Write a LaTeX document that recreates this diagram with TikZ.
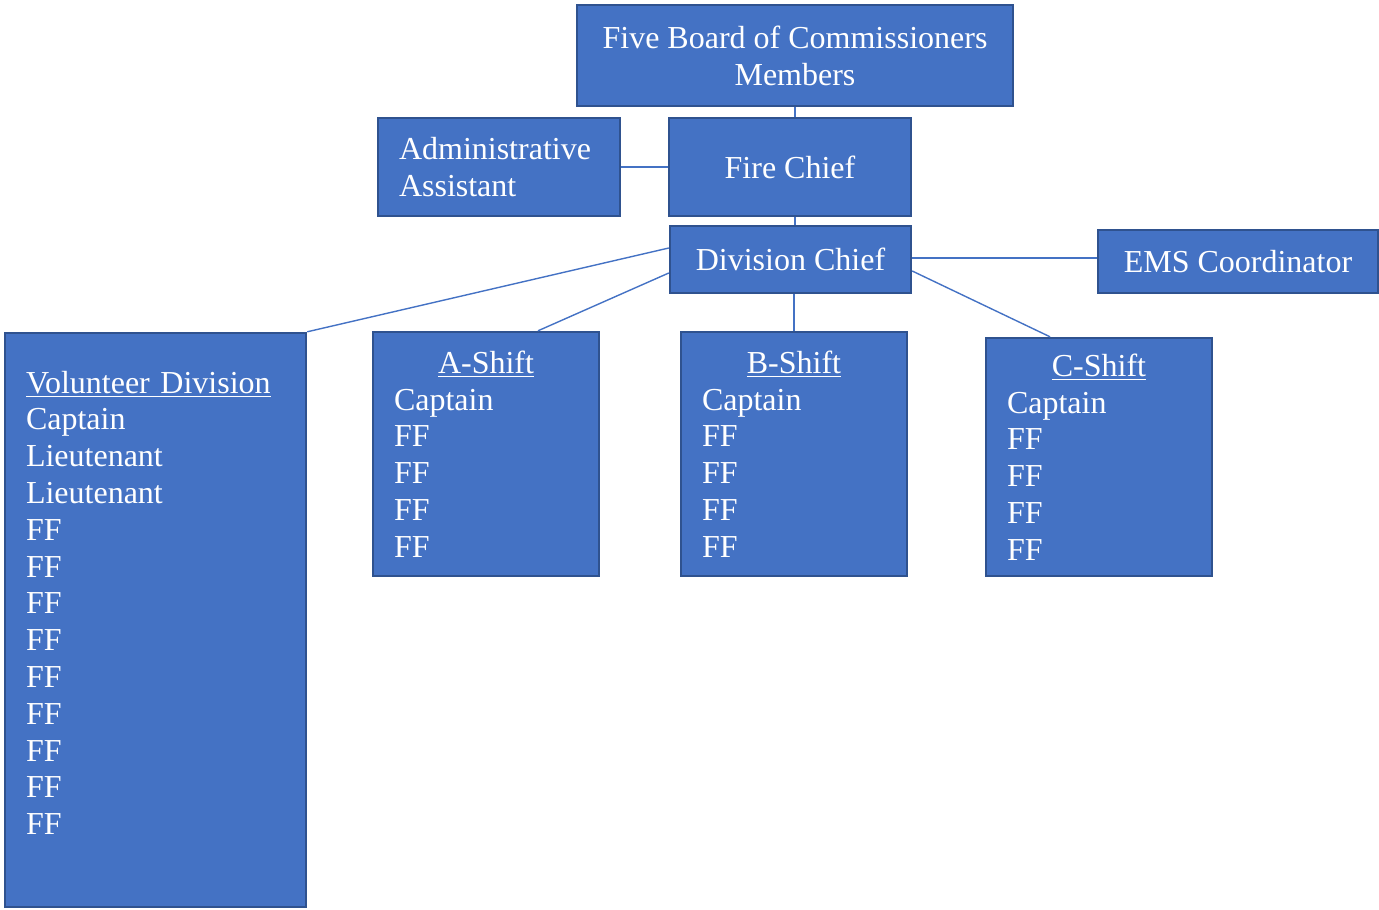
\documentclass[tikz,border=0pt]{standalone}
\usepackage{fontspec}
\setmainfont{Liberation Serif}
\usepackage{tikz}
\usetikzlibrary{calc}
\definecolor{org_blue}{RGB}{68, 114, 196}
\definecolor{org_edge}{RGB}{47, 82, 143}
\tikzstyle{ob}=[rectangle,fill=org_blue,draw=org_edge,line width=1.2pt,
  text=white,inner sep=0pt,align=center,font=\fontsize{16}{18.4}\selectfont]
\tikzstyle{lb}=[ob,align=left,inner xsep=10.5pt]
\tikzstyle{wire}=[draw=org_blue,line width=0.7pt]
\newcommand{\shifttitle}[1]{\makebox[\linewidth]{\underline{#1}}}

\begin{document}
\begin{tikzpicture}[x=0.5pt, y=-0.5pt]
    \useasboundingbox (0,0) rectangle (1379,909);
    \node [style=ob, minimum width=218pt, minimum height=50.5pt] (board) at (795, 55.5) {Five Board of Commissioners\\Members};
    \node [style=lb, text width=100pt, minimum height=49pt] (admin) at (499, 167) {Administrative\\Assistant};
    \node [style=ob, minimum width=121pt, minimum height=49pt] (chief) at (790, 167) {Fire Chief};
    \node [style=ob, minimum width=120.5pt, minimum height=33.5pt] (divchief) at (790.5, 259.5) {Division Chief};
    \node [style=ob, minimum width=140pt, minimum height=31.5pt] (ems) at (1238, 261.5) {EMS Coordinator};
    \node [style=lb, text width=129.5pt, minimum height=287pt, text depth=238pt] (vol) at (155.5, 620) {\underline{Volunteer Division}\\Captain\\Lieutenant\\Lieutenant\\FF\\FF\\FF\\FF\\FF\\FF\\FF\\FF\\FF};
    \node [style=lb, text width=92pt, minimum height=122pt] (ashift) at (486, 454) {\shifttitle{A-Shift}\\Captain\\FF\\FF\\FF\\FF};
    \node [style=lb, text width=92pt, minimum height=122pt] (bshift) at (794, 454) {\shifttitle{B-Shift}\\Captain\\FF\\FF\\FF\\FF};
    \node [style=lb, text width=92pt, minimum height=119pt] (cshift) at (1099, 457) {\shifttitle{C-Shift}\\Captain\\FF\\FF\\FF\\FF};
    \draw [style=wire] (board.south) to (board.south |- chief.north);
    \draw [style=wire] (admin) to (chief);
    \draw [style=wire] (board.south |- chief.south) to (board.south |- divchief.north);
    \draw [style=wire] ([yshift=5.75pt]divchief.west) to (vol.north east);
    \draw [style=wire] ([yshift=-6.75pt]divchief.west) to ([xshift=26pt]ashift.north);
    \draw [style=wire] (bshift.north |- divchief.south) to (bshift.north);
    \draw [style=wire] ([yshift=0.75pt]divchief.east) to ([yshift=0.75pt]divchief.east -| ems.west);
    \draw [style=wire] ([yshift=-5.75pt]divchief.east) to ([xshift=-24.5pt]cshift.north);
\end{tikzpicture}
\end{document}
